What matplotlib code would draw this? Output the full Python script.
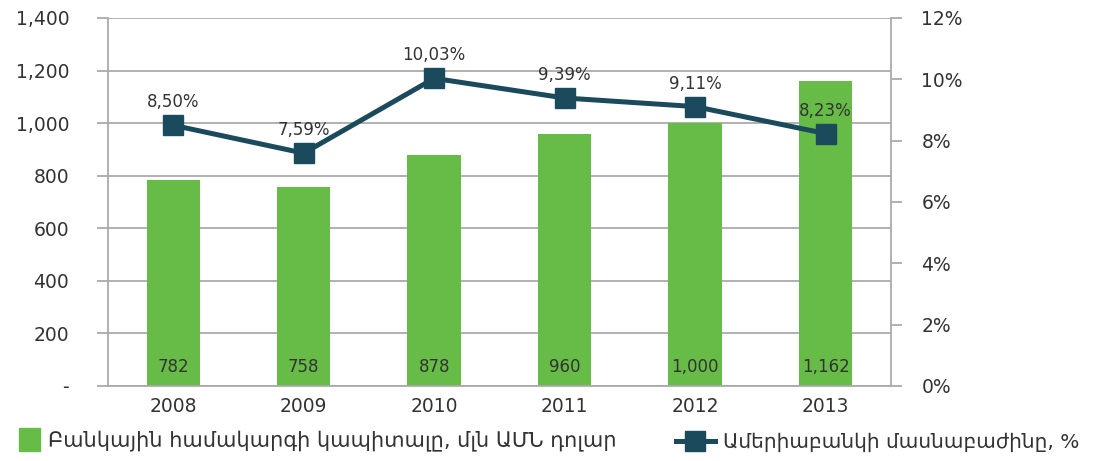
import matplotlib.pyplot as plt
from matplotlib.lines import Line2D
from matplotlib.patches import Patch
from matplotlib.ticker import FuncFormatter

plt.rcParams['font.family'] = ['DejaVu Sans']

years = ['2008', '2009', '2010', '2011', '2012', '2013']
capital = [782, 758, 878, 960, 1000, 1162]
share = [8.50, 7.59, 10.03, 9.39, 9.11, 8.23]

bar_label = 'Բանկային համակարգի կապիտալը, մլն ԱՄՆ դոլար'
line_label = 'Ամերիաբանկի մասնաբաժինը, %'

green = '#67bb47'
navy = '#1b4a5c'
grey = '#aaaaaa'
txt = '#333333'

fig = plt.figure(figsize=(10.97, 4.61), dpi=100)
ax = fig.add_axes([0.0985, 0.163, 0.7135, 0.798])
x = range(len(years))

ax.bar(x, capital, width=0.41, color=green, zorder=2)
ax.set_ylim(0, 1400)
ax.set_xlim(-0.5, 5.5)
ax.set_yticks(range(0, 1401, 200))
ax.yaxis.set_major_formatter(FuncFormatter(lambda v, p: '-' if v == 0 else f'{int(v):,}'))
ax.set_xticks(list(x))
ax.set_xticklabels(years)
ax.grid(axis='y', color=grey, lw=1.3, zorder=0)
ax.tick_params(axis='y', length=8, color=grey, width=1.3, labelsize=13.5, labelcolor=txt, pad=20)
ax.tick_params(axis='x', length=0, labelsize=13.5, labelcolor=txt, pad=8)
for s in ['top', 'right']:
    ax.spines[s].set_visible(False)
ax.spines['left'].set_color(grey)
ax.spines['bottom'].set_color(grey)
ax.spines['left'].set_linewidth(1.3)
ax.spines['bottom'].set_linewidth(1.3)
for i, v in enumerate(capital):
    ax.text(i, 70, f'{v:,}', ha='center', va='center', fontsize=12, color=txt, zorder=3)

ax2 = ax.twinx()
ax2.plot(x, share, color=navy, lw=3.6, marker='s', markersize=15, zorder=4)
ax2.set_ylim(0, 12)
ax2.set_yticks(range(0, 13, 2))
ax2.yaxis.set_major_formatter(FuncFormatter(lambda v, p: f'{int(v)}%'))
ax2.tick_params(axis='y', length=8, color=grey, width=1.3, labelsize=13.5, labelcolor=txt, pad=14)
for s in ['top', 'left', 'bottom']:
    ax2.spines[s].set_visible(False)
ax2.spines['right'].set_color(grey)
ax2.spines['right'].set_linewidth(1.3)
for i, v in enumerate(share):
    ax2.annotate(f'{v:.2f}%'.replace('.', ','), (i, v), xytext=(0, 10), textcoords='offset points',
                 ha='center', va='bottom', fontsize=12, color=txt)

handles = [Patch(color=green), Line2D([], [], color=navy, lw=3.6, marker='s', markersize=15)]
fig.legend(handles[:1], [bar_label], loc='lower left', bbox_to_anchor=(0.0, -0.02), frameon=False,
           fontsize=15, handlelength=1.0, handleheight=1.3, handletextpad=0.4, labelcolor=txt)
fig.legend(handles[1:], [line_label], loc='lower left', bbox_to_anchor=(0.6, -0.02), frameon=False,
           fontsize=14.5, handlelength=1.9, handletextpad=0.4, labelcolor=txt)

fig.savefig('out.png', dpi=100)
